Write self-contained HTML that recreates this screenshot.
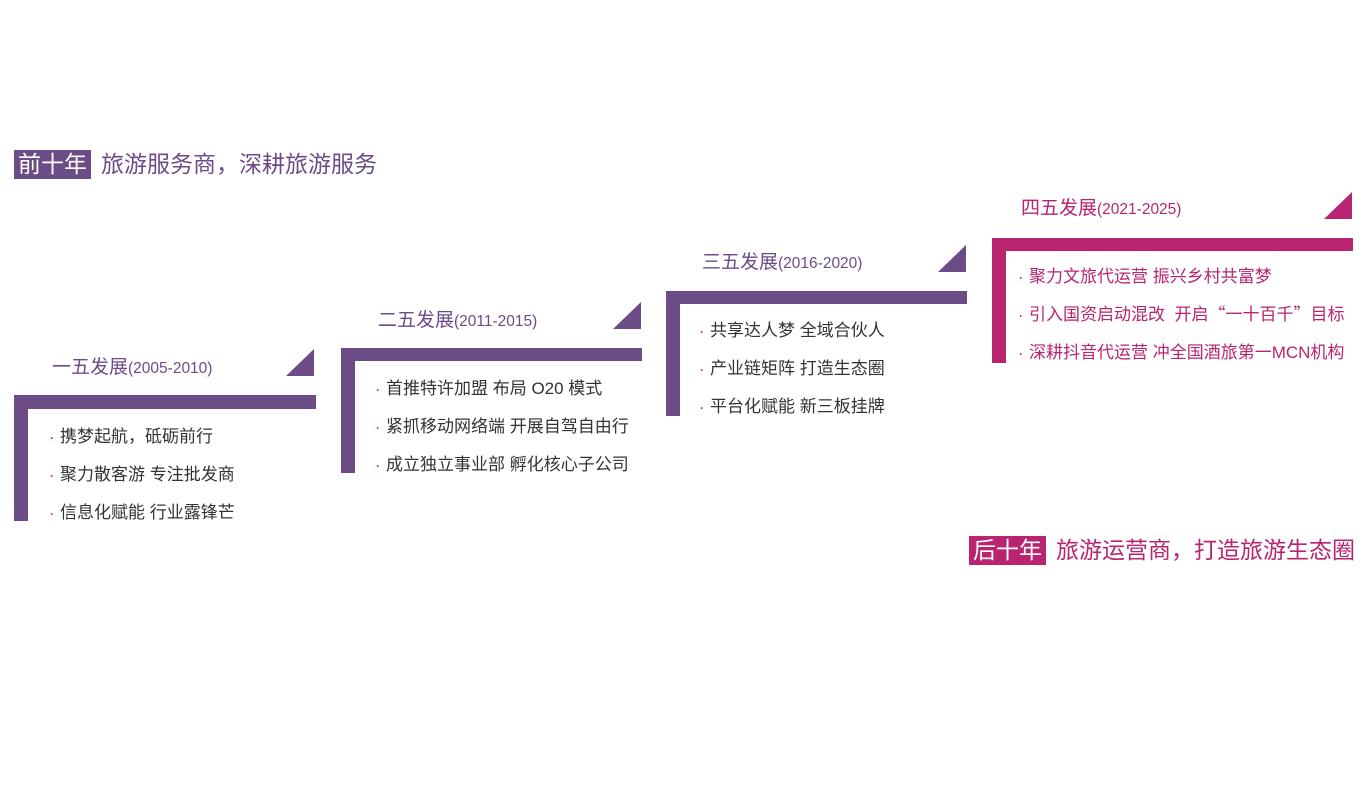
<!DOCTYPE html>
<html><head><meta charset="utf-8"><style>
body{margin:0;width:1370px;height:800px;background:#fff;position:relative;overflow:hidden;font-family:"Liberation Sans","Noto Sans CJK SC",sans-serif}
div{position:absolute}
.p{background:#6b4c87}.m{background:#b8246f}
.t{font-size:19px;line-height:22px;white-space:nowrap}
.t span{font-size:15.5px}
.it{font-size:17px;line-height:20px;height:20px;color:#333;white-space:nowrap}
.it b{font-weight:bold;color:#c0306f;font-size:12px;margin-right:6px}
.hb{color:#fff;font-size:23px;line-height:29px;text-align:center;width:77px;height:29px}
.ht{font-size:23px;line-height:29px;white-space:nowrap}
.cj{font-family:"Noto Sans CJK SC",sans-serif;line-height:0}
</style></head><body>
<div class="p hb" style="left:14px;top:150px">前十年</div>
<div class="ht" style="left:101px;top:150px;color:#6b4c87">旅游服务商，深耕旅游服务</div>
<div class="m hb" style="left:969px;top:536px">后十年</div>
<div class="ht" style="left:1056px;top:536px;color:#b8246f">旅游运营商，打造旅游生态圈</div>

<div class="p" style="left:14px;top:395px;width:302px;height:14px"></div>
<div class="p" style="left:14px;top:395px;width:14px;height:126px"></div>
<svg style="position:absolute;left:286px;top:349px" width="28" height="27"><polygon points="28,0 28,27 0,27" fill="#6b4c87"/></svg>
<div class="t" style="left:52px;top:357px;color:#6b4c87">一五发展<span>(2005-2010)</span></div>
<div class="it" style="left:50px;top:427px"><b>·</b>携梦起航，砥砺前行</div>
<div class="it" style="left:50px;top:465px"><b>·</b>聚力散客游 专注批发商</div>
<div class="it" style="left:50px;top:503px"><b>·</b>信息化赋能 行业露锋芒</div>

<div class="p" style="left:341px;top:348px;width:301px;height:13px"></div>
<div class="p" style="left:341px;top:348px;width:14px;height:125px"></div>
<svg style="position:absolute;left:613px;top:302px" width="28" height="27"><polygon points="28,0 28,27 0,27" fill="#6b4c87"/></svg>
<div class="t" style="left:378px;top:310px;color:#6b4c87">二五发展<span>(2011-2015)</span></div>
<div class="it" style="left:376px;top:379px"><b>·</b>首推特许加盟 布局 O20 模式</div>
<div class="it" style="left:376px;top:417px"><b>·</b>紧抓移动网络端 开展自驾自由行</div>
<div class="it" style="left:376px;top:455px"><b>·</b>成立独立事业部 孵化核心子公司</div>

<div class="p" style="left:666px;top:291px;width:301px;height:13px"></div>
<div class="p" style="left:666px;top:291px;width:14px;height:125px"></div>
<svg style="position:absolute;left:938px;top:245px" width="28" height="27"><polygon points="28,0 28,27 0,27" fill="#6b4c87"/></svg>
<div class="t" style="left:702px;top:252px;color:#6b4c87">三五发展<span>(2016-2020)</span></div>
<div class="it" style="left:700px;top:321px"><b>·</b>共享达人梦 全域合伙人</div>
<div class="it" style="left:700px;top:359px"><b>·</b>产业链矩阵 打造生态圈</div>
<div class="it" style="left:700px;top:397px"><b>·</b>平台化赋能 新三板挂牌</div>

<div class="m" style="left:992px;top:238px;width:361px;height:13px"></div>
<div class="m" style="left:992px;top:238px;width:14px;height:125px"></div>
<svg style="position:absolute;left:1324px;top:192px" width="28" height="27"><polygon points="28,0 28,27 0,27" fill="#b8246f"/></svg>
<div class="t" style="left:1021px;top:198px;color:#b8246f">四五发展<span>(2021-2025)</span></div>
<div class="it" style="left:1019px;top:267px;color:#b8246f"><b>·</b>聚力文旅代运营 振兴乡村共富梦</div>
<div class="it" style="left:1019px;top:305px;color:#b8246f"><b>·</b>引入国资启动混改&nbsp; 开启<span class="cj">“</span>一十百千<span class="cj">”</span>目标</div>
<div class="it" style="left:1019px;top:343px;color:#b8246f"><b>·</b>深耕抖音代运营 冲全国酒旅第一MCN机构</div>
</body></html>
